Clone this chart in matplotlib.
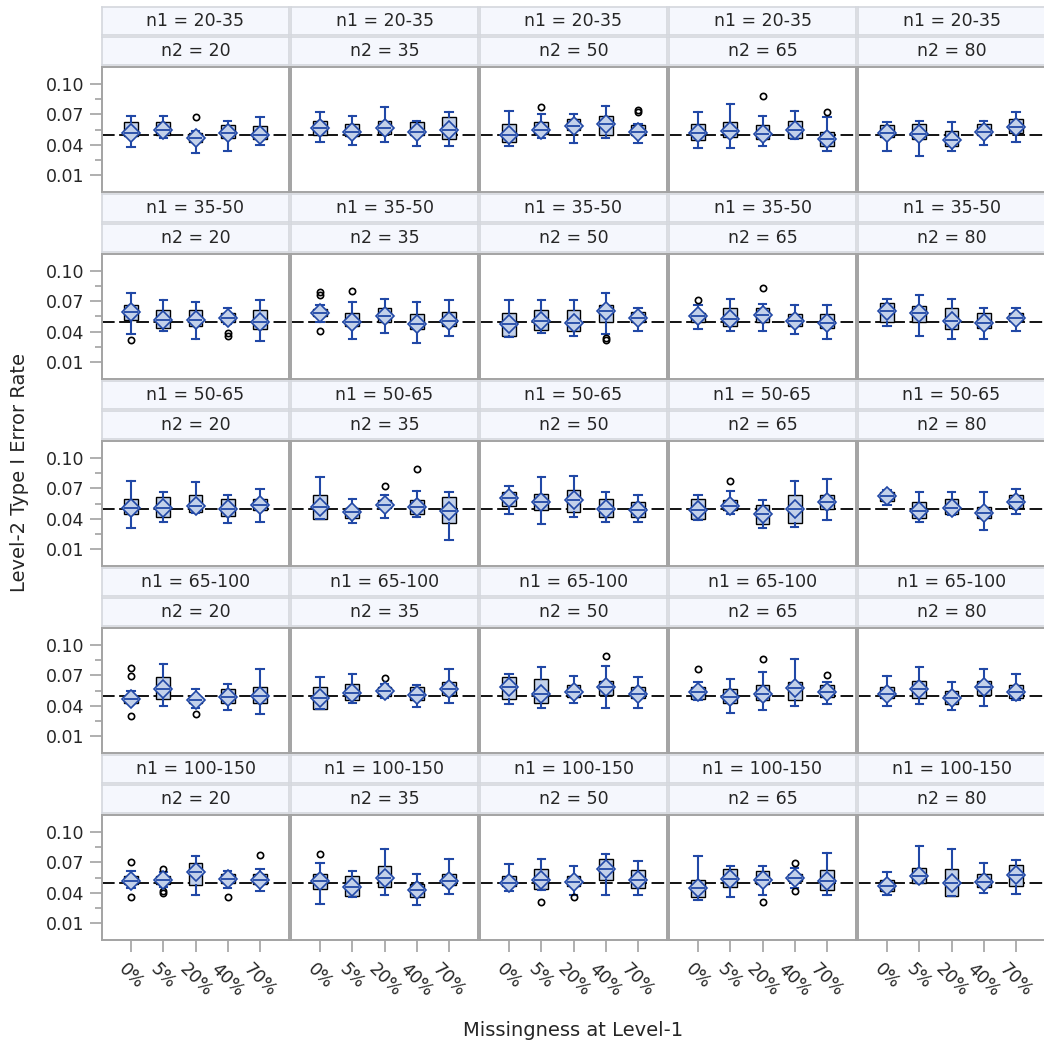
import numpy as np
import matplotlib
matplotlib.use("Agg")
import matplotlib.pyplot as plt

# panel facets
n1_groups = ["20-35", "35-50", "50-65", "65-100", "100-150"]
n2_groups = ["20", "35", "50", "65", "80"]
missingness = ["0%", "5%", "20%", "40%", "70%"]

# box statistics: one row per (n1, n2) panel, five values per missingness level
whisker_lo = [
    [0.038, 0.047, 0.032, 0.034, 0.040], [0.043, 0.040, 0.043, 0.039, 0.039],
    [0.039, 0.047, 0.042, 0.047, 0.042], [0.037, 0.037, 0.039, 0.046, 0.034],
    [0.034, 0.029, 0.034, 0.040, 0.043],
    [0.038, 0.041, 0.033, 0.048, 0.031], [0.050, 0.033, 0.039, 0.029, 0.036],
    [0.035, 0.039, 0.036, 0.038, 0.041], [0.043, 0.041, 0.041, 0.038, 0.033],
    [0.046, 0.036, 0.033, 0.033, 0.041],
    [0.031, 0.037, 0.046, 0.036, 0.037], [0.040, 0.036, 0.041, 0.042, 0.019],
    [0.045, 0.035, 0.042, 0.037, 0.037], [0.039, 0.045, 0.031, 0.032, 0.039],
    [0.054, 0.037, 0.044, 0.029, 0.045],
    [0.043, 0.040, 0.038, 0.036, 0.032], [0.037, 0.043, 0.048, 0.039, 0.043],
    [0.042, 0.038, 0.043, 0.038, 0.038], [0.046, 0.033, 0.036, 0.040, 0.042],
    [0.040, 0.042, 0.036, 0.040, 0.046],
    [0.045, 0.046, 0.038, 0.045, 0.042], [0.029, 0.036, 0.038, 0.028, 0.039],
    [0.042, 0.043, 0.038, 0.038, 0.038], [0.033, 0.036, 0.038, 0.045, 0.038],
    [0.038, 0.050, 0.037, 0.040, 0.039],
]
q1 = [
    [0.049, 0.050, 0.043, 0.047, 0.046], [0.050, 0.049, 0.051, 0.050, 0.046],
    [0.043, 0.051, 0.055, 0.050, 0.050], [0.045, 0.048, 0.046, 0.047, 0.039],
    [0.048, 0.046, 0.039, 0.050, 0.052],
    [0.052, 0.044, 0.046, 0.050, 0.043], [0.055, 0.046, 0.050, 0.043, 0.046],
    [0.036, 0.042, 0.041, 0.050, 0.050], [0.050, 0.046, 0.050, 0.046, 0.044],
    [0.050, 0.050, 0.043, 0.044, 0.051],
    [0.045, 0.042, 0.047, 0.043, 0.049], [0.040, 0.041, 0.051, 0.045, 0.036],
    [0.053, 0.049, 0.047, 0.042, 0.042], [0.040, 0.049, 0.035, 0.036, 0.050],
    [0.057, 0.041, 0.045, 0.041, 0.051],
    [0.043, 0.047, 0.043, 0.043, 0.043], [0.037, 0.046, 0.050, 0.046, 0.051],
    [0.047, 0.043, 0.049, 0.051, 0.048], [0.047, 0.043, 0.046, 0.046, 0.049],
    [0.048, 0.048, 0.042, 0.051, 0.048],
    [0.049, 0.049, 0.048, 0.050, 0.049], [0.044, 0.037, 0.046, 0.036, 0.048],
    [0.047, 0.044, 0.047, 0.053, 0.045], [0.036, 0.046, 0.049, 0.052, 0.043],
    [0.042, 0.050, 0.037, 0.046, 0.047],
]
median = [
    [0.052, 0.055, 0.047, 0.052, 0.050], [0.056, 0.053, 0.056, 0.053, 0.055],
    [0.050, 0.055, 0.058, 0.060, 0.053], [0.052, 0.054, 0.051, 0.055, 0.046],
    [0.052, 0.051, 0.045, 0.053, 0.057],
    [0.059, 0.052, 0.052, 0.054, 0.050], [0.058, 0.050, 0.055, 0.048, 0.051],
    [0.048, 0.051, 0.049, 0.060, 0.054], [0.055, 0.053, 0.056, 0.051, 0.049],
    [0.060, 0.058, 0.051, 0.049, 0.054],
    [0.051, 0.051, 0.053, 0.050, 0.054], [0.052, 0.047, 0.054, 0.052, 0.048],
    [0.060, 0.056, 0.058, 0.050, 0.049], [0.049, 0.053, 0.045, 0.050, 0.056],
    [0.062, 0.048, 0.051, 0.046, 0.056],
    [0.047, 0.056, 0.046, 0.049, 0.050], [0.048, 0.053, 0.055, 0.051, 0.056],
    [0.058, 0.052, 0.054, 0.058, 0.052], [0.054, 0.049, 0.052, 0.057, 0.054],
    [0.052, 0.056, 0.048, 0.058, 0.054],
    [0.052, 0.053, 0.060, 0.054, 0.053], [0.052, 0.046, 0.055, 0.043, 0.052],
    [0.050, 0.053, 0.051, 0.063, 0.053], [0.045, 0.054, 0.053, 0.055, 0.052],
    [0.047, 0.056, 0.050, 0.051, 0.057],
]
q3 = [
    [0.062, 0.062, 0.052, 0.059, 0.058], [0.063, 0.060, 0.063, 0.062, 0.067],
    [0.060, 0.062, 0.065, 0.068, 0.059], [0.060, 0.062, 0.059, 0.063, 0.053],
    [0.059, 0.060, 0.054, 0.060, 0.065],
    [0.066, 0.061, 0.061, 0.058, 0.061], [0.062, 0.058, 0.063, 0.057, 0.059],
    [0.058, 0.061, 0.061, 0.066, 0.059], [0.058, 0.063, 0.063, 0.057, 0.057],
    [0.068, 0.065, 0.063, 0.058, 0.058],
    [0.059, 0.061, 0.063, 0.059, 0.059], [0.063, 0.051, 0.058, 0.058, 0.061],
    [0.066, 0.064, 0.068, 0.059, 0.056], [0.059, 0.058, 0.054, 0.063, 0.063],
    [0.066, 0.056, 0.059, 0.052, 0.063],
    [0.050, 0.068, 0.049, 0.056, 0.058], [0.058, 0.061, 0.058, 0.058, 0.063],
    [0.068, 0.066, 0.060, 0.064, 0.058], [0.058, 0.056, 0.060, 0.063, 0.060],
    [0.058, 0.064, 0.055, 0.064, 0.060],
    [0.056, 0.056, 0.069, 0.058, 0.058], [0.058, 0.056, 0.066, 0.049, 0.058],
    [0.056, 0.063, 0.056, 0.073, 0.062], [0.053, 0.063, 0.061, 0.058, 0.062],
    [0.053, 0.064, 0.063, 0.058, 0.067],
]
whisker_hi = [
    [0.068, 0.068, 0.054, 0.063, 0.067], [0.072, 0.068, 0.077, 0.063, 0.072],
    [0.073, 0.070, 0.070, 0.078, 0.060], [0.072, 0.080, 0.068, 0.073, 0.067],
    [0.062, 0.063, 0.062, 0.063, 0.072],
    [0.078, 0.071, 0.069, 0.063, 0.071], [0.066, 0.069, 0.072, 0.069, 0.071],
    [0.071, 0.071, 0.071, 0.078, 0.063], [0.066, 0.072, 0.067, 0.066, 0.066],
    [0.072, 0.076, 0.072, 0.063, 0.063],
    [0.077, 0.066, 0.076, 0.063, 0.069], [0.081, 0.059, 0.063, 0.067, 0.066],
    [0.072, 0.081, 0.082, 0.066, 0.063], [0.063, 0.067, 0.058, 0.077, 0.079],
    [0.068, 0.066, 0.066, 0.066, 0.069],
    [0.055, 0.081, 0.056, 0.061, 0.076], [0.068, 0.071, 0.061, 0.060, 0.076],
    [0.071, 0.078, 0.069, 0.079, 0.068], [0.063, 0.066, 0.073, 0.086, 0.063],
    [0.069, 0.078, 0.063, 0.076, 0.071],
    [0.061, 0.060, 0.076, 0.061, 0.063], [0.069, 0.061, 0.083, 0.058, 0.073],
    [0.068, 0.073, 0.066, 0.078, 0.071], [0.076, 0.066, 0.066, 0.064, 0.079],
    [0.060, 0.086, 0.083, 0.069, 0.072],
]
# outliers: (n1 index, n2 index, missingness index, values)
outliers = [
    (0, 0, 2, [0.067]), (0, 2, 1, [0.077]), (0, 2, 4, [0.072, 0.074]),
    (0, 3, 2, [0.088]), (0, 3, 4, [0.072]),
    (1, 0, 0, [0.032]), (1, 0, 3, [0.036, 0.039]), (1, 1, 0, [0.076, 0.079, 0.041]),
    (1, 1, 1, [0.080]), (1, 2, 3, [0.032, 0.034]), (1, 3, 0, [0.071]), (1, 3, 2, [0.083]),
    (2, 1, 2, [0.072]), (2, 1, 3, [0.089]), (2, 3, 1, [0.077]),
    (3, 0, 0, [0.077, 0.069, 0.030]), (3, 0, 2, [0.032]), (3, 1, 2, [0.067]),
    (3, 2, 3, [0.089]), (3, 3, 0, [0.076]), (3, 3, 2, [0.086]), (3, 3, 4, [0.070]),
    (4, 0, 0, [0.070, 0.036]), (4, 0, 1, [0.063, 0.042, 0.040]), (4, 0, 3, [0.036]),
    (4, 0, 4, [0.077]), (4, 1, 0, [0.078]), (4, 2, 1, [0.031]), (4, 2, 2, [0.036]),
    (4, 3, 2, [0.031]), (4, 3, 3, [0.069, 0.042]),
]
y_ticks = [0.01, 0.04, 0.07, 0.10]
y_minor = [0.025, 0.055, 0.085]
nominal_alpha = 0.05

BLUE = "#2148a6"
FILL = "#c3d1ea"
TEXT = "#262626"
HEAD_FILL = "#f5f7fd"
HEAD_EDGE = "#d4d7dd"
FRAME = "#a3a3a3"

W, H = 1044, 1051
fig = plt.figure(figsize=(W / 100, H / 100), dpi=100)


def px_axes(x, y, w, h):
    return fig.add_axes([x / W, 1 - (y + h) / H, w / W, h / H])


def header(x, y, label):
    hx = px_axes(x, y, 187, 28)
    hx.set_facecolor(HEAD_FILL)
    hx.set_xticks([])
    hx.set_yticks([])
    for s in hx.spines.values():
        s.set_color(HEAD_EDGE)
        s.set_linewidth(1.2)
    hx.text(0.5, 0.5, label, ha="center", va="center", fontsize=12.5,
            color=TEXT, transform=hx.transAxes)


fliers_by_box = {(r, c, k): v for r, c, k, v in outliers}
positions = np.arange(1, 6)

for r, n1 in enumerate(n1_groups):
    for c, n2 in enumerate(n2_groups):
        x0 = 102 + c * 189
        y0 = 7 + r * 187
        header(x0, y0, f"n1 = {n1}")
        header(x0, y0 + 30, f"n2 = {n2}")

        ax = px_axes(x0, y0 + 60, 187, 125)
        p = r * 5 + c
        stats = []
        for k in range(5):
            stats.append(dict(med=median[p][k], q1=q1[p][k], q3=q3[p][k],
                              whislo=whisker_lo[p][k], whishi=whisker_hi[p][k],
                              fliers=fliers_by_box.get((r, c, k), [])))

        ax.axhline(nominal_alpha, color="black", lw=1.3, ls=(0, (7, 2.5)), zorder=1)
        parts = ax.bxp(stats, positions=positions, widths=0.43, capwidths=0.22,
                       patch_artist=True,
                       boxprops=dict(facecolor=FILL, edgecolor="black", linewidth=1.0),
                       whiskerprops=dict(color=BLUE, linewidth=1.5),
                       capprops=dict(color=BLUE, linewidth=1.5),
                       medianprops=dict(color=BLUE, linewidth=1.3),
                       flierprops=dict(marker="o", markerfacecolor="none",
                                       markeredgecolor="black", markersize=4.5,
                                       markeredgewidth=1.2),
                       zorder=2)
        ax.plot(positions, median[p], ls="none", marker="D", ms=9,
                mfc=FILL, mec=BLUE, mew=1.2, zorder=3)
        for m in parts["medians"]:
            m.set_zorder(4)

        ax.set_xlim(0.1, 5.9)
        ax.set_ylim(-0.0065, 0.1165)
        for s in ax.spines.values():
            s.set_color(FRAME)
            s.set_linewidth(1.4)

        ax.set_yticks(y_ticks)
        ax.set_yticks(y_minor, minor=True)
        if c == 0:
            ax.set_yticklabels([f"{v:.2f}" for v in y_ticks])
            ax.tick_params(axis="y", which="major", length=8.5, width=1.1,
                           color="#9a9a9a", labelsize=12.5, labelcolor=TEXT, pad=4)
            ax.tick_params(axis="y", which="minor", length=5, width=1.1, color="#9a9a9a")
        else:
            ax.tick_params(axis="y", which="both", left=False, labelleft=False)

        ax.set_xticks(positions)
        if r == len(n1_groups) - 1:
            ax.set_xticklabels(missingness, rotation=-45, ha="center", va="top")
            ax.tick_params(axis="x", length=8.5, width=1.1, color="#9a9a9a",
                           labelsize=12.5, labelcolor=TEXT, pad=6)
        else:
            ax.tick_params(axis="x", bottom=False, labelbottom=False)

fig.text(20 / W, 1 - 473 / H, "Level-2 Type I Error Rate", rotation=90,
         ha="center", va="center", fontsize=14, color=TEXT)
fig.text(573 / W, 1 - 1030 / H, "Missingness at Level-1",
         ha="center", va="center", fontsize=14, color=TEXT)

fig.savefig("out.png", dpi=100, facecolor="white")
